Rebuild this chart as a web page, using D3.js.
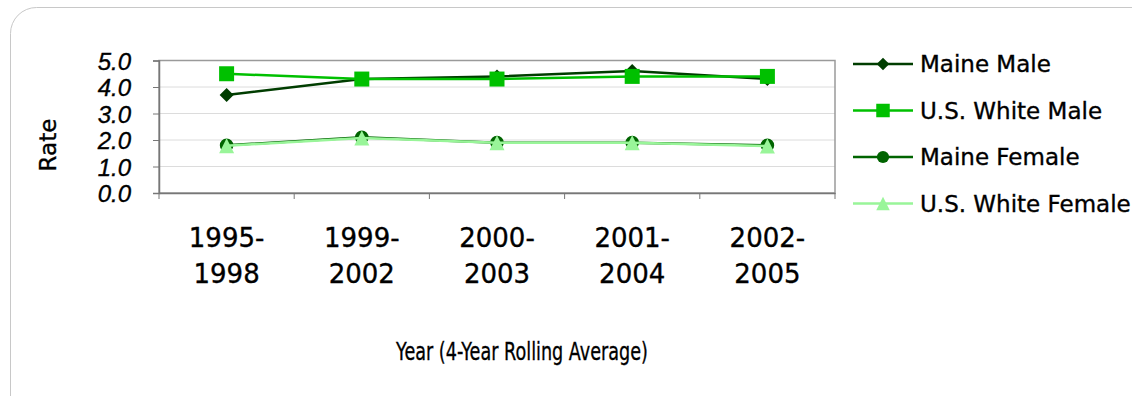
<!DOCTYPE html>
<html><head><meta charset="utf-8">
<script src="https://cdn.jsdelivr.net/npm/d3@7"></script>
<style>body{margin:0;background:#fff;}svg{display:block;font-family:"DejaVu Sans",sans-serif;}
.t{fill:#000;stroke:#000;stroke-width:0.35px;}</style>
</head><body>
<svg id="c" width="1132" height="396"></svg>
<script>
const categories = [["1995-","1998"],["1999-","2002"],["2000-","2003"],["2001-","2004"],["2002-","2005"]];
const seriesNames = ["Maine Male","U.S. White Male","Maine Female","U.S. White Female"];
const maineMale = [3.7, 4.3, 4.4, 4.6, 4.3];
const usWhiteMale = [4.5, 4.3, 4.3, 4.4, 4.4];
const maineFemale = [1.8, 2.1, 1.9, 1.9, 1.8];
const usWhiteFemale = [1.78, 2.08, 1.9, 1.9, 1.77];
const yTicks = [0,1,2,3,4,5];

const colors = ["#003d00","#00c000","#006400","#99f599"];
const allSeries = [maineMale, usWhiteMale, maineFemale, usWhiteFemale];

function marker(s, k) {
  const p = d3.path();
  if (s === 0) { const r = 7*k; p.moveTo(0,-r); p.lineTo(r,0); p.lineTo(0,r); p.lineTo(-r,0); p.closePath(); }
  else if (s === 1) { const h = 7.5*k; p.rect(-h,-h,2*h,2*h); }
  else if (s === 2) { p.arc(0,0,6.8*k,0,2*Math.PI); }
  else { const h = 7.5*k; p.moveTo(0,-h); p.lineTo(h,h); p.lineTo(-h,h); p.closePath(); }
  return p.toString();
}

const svg = d3.select("#c");
svg.append("rect").attr("x",10.5).attr("y",7.5).attr("width",1150).attr("height",420)
  .attr("rx",26).attr("fill","#fff").attr("stroke","#c8c8c8").attr("stroke-width",1);

const L=159, R=835, T=60.5, B=193;
const x = d3.scaleBand().domain(d3.range(categories.length)).range([L,R]);
const y = d3.scaleLinear().domain([0,5]).range([B,T]);

svg.append("g").selectAll("line").data(yTicks).join("line")
  .attr("x1",L).attr("x2",R).attr("y1",d=>y(d)).attr("y2",d=>y(d))
  .attr("stroke","#dcdcdc").attr("stroke-width",1);
svg.append("rect").attr("x",L).attr("y",T).attr("width",R-L).attr("height",B-T)
  .attr("fill","none").attr("stroke","#9a9a9a").attr("stroke-width",1.5);

const yAxis = svg.append("g").attr("transform",`translate(${L},0)`)
  .call(d3.axisLeft(y).tickValues(yTicks).tickFormat(d3.format(".1f")).tickSize(6).tickPadding(22));
yAxis.select(".domain").attr("stroke","#777").attr("stroke-width",1.5);
yAxis.selectAll(".tick line").attr("stroke","#777");
yAxis.selectAll("text").attr("class","t").attr("font-size",24).attr("font-style","italic").attr("dy","0.36em");

const xAxis = svg.append("g").attr("transform",`translate(0,${B})`)
  .call(d3.axisBottom(x).tickSize(0).tickFormat(""));
xAxis.select(".domain").attr("stroke","#777").attr("stroke-width",1.5);
svg.append("g").selectAll("line").data(d3.range(categories.length+1)).join("line")
  .attr("x1",i=>L+i*x.step()).attr("x2",i=>L+i*x.step())
  .attr("y1",B).attr("y2",B+6).attr("stroke","#777");
const xl = svg.append("g").selectAll("text").data(categories).join("text")
  .attr("class","t").attr("text-anchor","middle").attr("font-size",26);
xl.append("tspan").attr("x",(d,i)=>x(i)+x.bandwidth()/2).attr("y",247).text(d=>d[0]);
xl.append("tspan").attr("x",(d,i)=>x(i)+x.bandwidth()/2).attr("y",283).text(d=>d[1]);

svg.append("text").attr("class","t").attr("transform","translate(56,145) rotate(-90)").attr("text-anchor","middle")
  .attr("font-size",23).text("Rate");
svg.append("text").attr("class","t").attr("x",522).attr("y",360).attr("text-anchor","middle")
  .attr("font-size",25).attr("textLength",252).attr("lengthAdjust","spacingAndGlyphs")
  .text("Year (4-Year Rolling Average)");

const line = d3.line().x((d,i)=>x(i)+x.bandwidth()/2).y(d=>y(d));
[0,1,2,3].forEach(s=>{
  svg.append("path").datum(allSeries[s]).attr("d",line).attr("fill","none")
    .attr("stroke",colors[s]).attr("stroke-width",2.5);
  svg.append("g").selectAll("path").data(allSeries[s]).join("path")
    .attr("transform",(d,i)=>`translate(${x(i)+x.bandwidth()/2},${y(d)})`)
    .attr("d",marker(s,1)).attr("fill",colors[s]);
});

const lg = svg.append("g").selectAll("g").data(seriesNames).join("g")
  .attr("transform",(d,i)=>`translate(853,${64+i*46.5})`);
lg.append("line").attr("x1",0).attr("x2",60).attr("stroke",(d,i)=>colors[i]).attr("stroke-width",2.5);
lg.append("path").attr("transform","translate(30,0)")
  .attr("d",(d,i)=>marker(i,0.9)).attr("fill",(d,i)=>colors[i]);
lg.append("text").attr("class","t").attr("x",67).attr("y",8).attr("font-size",23).text(d=>d);
</script>
</body></html>
